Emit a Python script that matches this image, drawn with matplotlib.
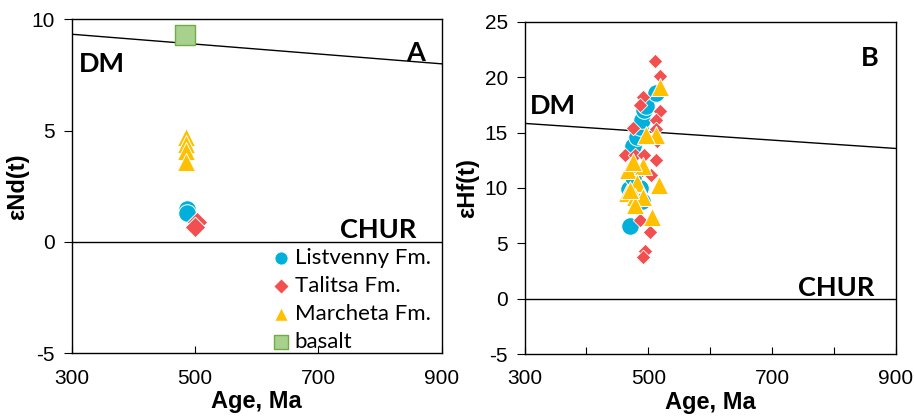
import numpy as np
import matplotlib.pyplot as plt
from matplotlib.ticker import MultipleLocator

# Panel A: eNd(t)
nd_list_age = [487, 487]
nd_list_val = [1.5, 1.3]
nd_tal_age = [503, 500]
nd_tal_val = [0.9, 0.65]
nd_mar_age = [485, 485, 485, 485]
nd_mar_val = [4.7, 4.4, 4.1, 3.6]
nd_bas_age = [484]
nd_bas_val = [9.3]
nd_dm = [9.33, 8.0]   # DM at 300 and 900 Ma

# Panel B: eHf(t)
hf_list_age = [470, 469, 487, 490, 475, 476, 482, 486, 489, 493, 497, 512]
hf_list_val = [6.6, 9.9, 10.0, 8.8, 11.0, 13.8, 14.6, 15.5, 16.1, 17.0, 17.4, 18.6]
hf_tal_age = [511, 519, 491, 487, 519, 513, 514, 462, 478, 493, 513, 505, 487, 502, 494, 491, 475, 513, 489]
hf_tal_val = [21.5, 20.1, 18.2, 17.5, 16.9, 16.1, 14.2, 13.0, 13.0, 13.0, 12.5, 11.2, 7.1, 6.0, 4.3, 3.8, 15.4, 15.3, 11.6]
hf_mar_age = [519, 513, 497, 467, 492, 476, 481, 465, 478, 492, 478, 518, 506, 470]
hf_mar_val = [19.1, 14.8, 14.8, 11.6, 12.0, 12.3, 10.4, 9.5, 9.2, 9.2, 8.45, 10.3, 7.4, 9.85]
hf_dm = [15.82, 13.56]

ages = [300, 900]
blue = '#00b0da'
red = '#f25050'
yellow = '#ffc000'
sq_face = '#a9d18e'
sq_edge = '#70ad47'

plt.rcParams['font.family'] = ['Liberation Sans', 'DejaVu Sans']
plt.rcParams['axes.unicode_minus'] = False
lab_font = ['Lato', 'DejaVu Sans']

fig = plt.figure(figsize=(9.14, 4.18), dpi=100)
axA = fig.add_axes([0.0784, 0.1548, 0.4049, 0.799])
axB = fig.add_axes([0.574, 0.153, 0.406, 0.795])


def style(ax, ylim, ystep):
    ax.set_xlim(300, 900)
    ax.set_ylim(*ylim)
    ax.set_xticks([300, 500, 700, 900])
    ax.yaxis.set_major_locator(MultipleLocator(ystep))
    ax.tick_params(axis='x', direction='in', length=5, labelsize=15, pad=11, width=0.8)
    ax.tick_params(axis='y', direction='out', length=6, labelsize=15, pad=6, width=0.8)
    ax.set_xlabel('Age, Ma', fontsize=17, fontweight='bold', labelpad=2)
    for s in ax.spines.values():
        s.set_linewidth(1.0)
    ax.axhline(0, color='black', lw=1)


ms_c = 160
# panel A
axA.plot(ages, nd_dm, color='black', lw=1)
axA.scatter(nd_list_age, nd_list_val, s=ms_c, marker='o', color=blue, edgecolor='white', lw=0.7, zorder=3, label='Listvenny Fm.')
axA.scatter(nd_tal_age, nd_tal_val, s=110, marker='D', color=red, edgecolor='white', lw=0.7, zorder=3, label='Talitsa Fm.')
axA.scatter(nd_mar_age, nd_mar_val, s=170, marker='^', color=yellow, edgecolor='white', lw=0.7, zorder=3, label='Marcheta Fm.')
axA.scatter(nd_bas_age, nd_bas_val, s=190, marker='s', color=sq_face, edgecolor=sq_edge, lw=1, zorder=3, label='basalt')
style(axA, (-5, 10), 5)
axA.set_ylabel('εNd(t)', fontsize=17, fontweight='bold', labelpad=2)
axA.text(0.02, 0.865, 'DM', transform=axA.transAxes, fontsize=19.5, fontweight='bold', family=lab_font, va='center')
axA.text(0.829, 0.37, 'CHUR', transform=axA.transAxes, fontsize=19.5, fontweight='bold', family=lab_font, va='center', ha='center')
axA.text(0.93, 0.9, 'A', transform=axA.transAxes, fontsize=19.5, fontweight='bold', family=lab_font, va='center', ha='center')
leg = axA.legend(loc='lower right', bbox_to_anchor=(1.0, -0.03), frameon=False,
                 prop={'family': 'Lato', 'size': 16}, handletextpad=0.05, labelspacing=0.37,
                 markerscale=0.75, borderpad=0.0, handlelength=1.1)

# panel B
axB.plot(ages, hf_dm, color='black', lw=1)
axB.scatter(hf_list_age, hf_list_val, s=ms_c, marker='o', color=blue, edgecolor='white', lw=0.7, zorder=3)
axB.scatter(hf_tal_age, hf_tal_val, s=55, marker='D', color=red, edgecolor='white', lw=0.6, zorder=3)
axB.scatter(hf_mar_age, hf_mar_val, s=170, marker='^', color=yellow, edgecolor='white', lw=0.7, zorder=4)
style(axB, (-5, 25), 5)
axB.xaxis.set_minor_locator(MultipleLocator(100))
axB.tick_params(axis='x', which='minor', direction='in', length=5, width=0.8)
axB.set_ylabel('εHf(t)', fontsize=17, fontweight='bold', labelpad=4)
axB.text(0.015, 0.745, 'DM', transform=axB.transAxes, fontsize=19.5, fontweight='bold', family=lab_font, va='center')
axB.text(0.84, 0.2, 'CHUR', transform=axB.transAxes, fontsize=19.5, fontweight='bold', family=lab_font, va='center', ha='center')
axB.text(0.93, 0.89, 'B', transform=axB.transAxes, fontsize=19.5, fontweight='bold', family=lab_font, va='center', ha='center')

fig.savefig('out.png', dpi=100)
